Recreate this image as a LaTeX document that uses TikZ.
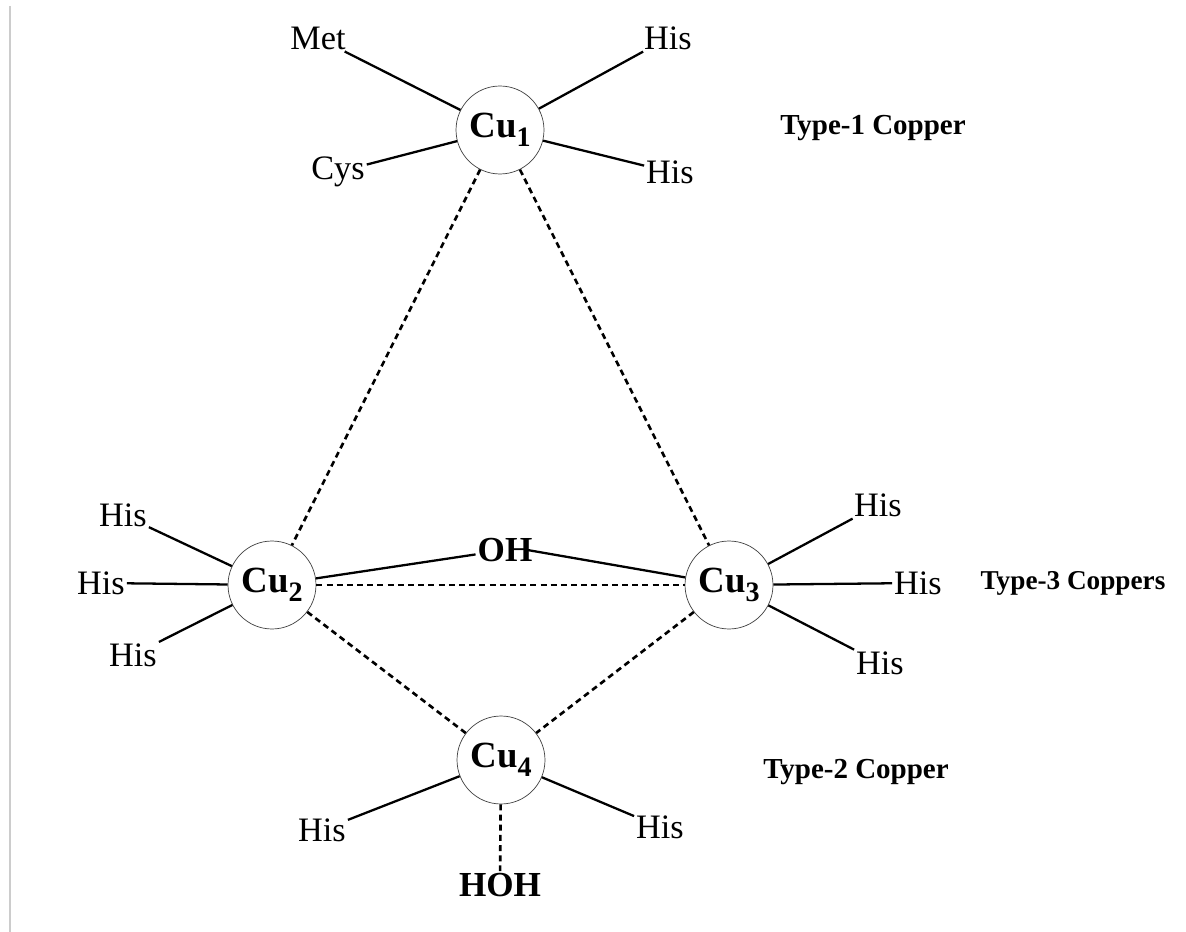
\documentclass[tikz,border=0pt]{standalone}
\usepackage{fontspec}
\setmainfont{Liberation Serif}

\newcommand{\cusub}[1]{\raisebox{-0.5ex}{\fontsize{16}{17}\selectfont #1}}

\tikzset{
  copper/.style={circle, draw=black!75, thin, minimum size=1.76cm, inner sep=0pt,
    font=\fontsize{21}{23}\selectfont\bfseries},
  ligand/.style={inner sep=1pt, font=\fontsize{19.5}{21}\selectfont},
  bond/.style={line width=1.3pt},
  weakbond/.style={line width=1.5pt, dash pattern=on 3.4pt off 2.4pt},
  tag/.style={font=\fontsize{16.5}{18}\selectfont\bfseries},
}

\begin{document}
\begin{tikzpicture}[x=0.02cm, y=-0.02cm]
  \useasboundingbox (0,0) rectangle (1186,932);
  \draw[black!20, line width=1.5pt] (10,6) -- (10,932);

  % the four coppers
  \node[copper] (cu1) at (500,130) {Cu\cusub{1}};
  \node[copper] (cu2) at (272,585) {Cu\cusub{2}};
  \node[copper] (cu3) at (729,585) {Cu\cusub{3}};
  \node[copper] (cu4) at (501,760) {Cu\cusub{4}};

  % residues
  \foreach \nm/\px/\py/\txt in {met/318/38/Met, hisa/668/38/His, cys/338/172/Cys, hisb/670/172/His,
      hisc/123/515/His, hisd/101/583/His, hise/133/655/His,
      hisf/878/505/His, hisg/918/583/His, hish/880/663/His,
      hisi/322/830/His, hisj/660/827/His}
    \node[ligand] (\nm) at (\px,\py) {\txt};
  \node[ligand, font=\fontsize{20}{22}\selectfont\bfseries] (oh) at (505,550) {OH};
  \node[ligand, font=\fontsize{20}{22}\selectfont\bfseries] (hoh) at (500,885) {HOH};

  \foreach \a/\b in {cu1/met, cu1/hisa, cu1/cys, cu1/hisb,
      cu2/hisc, cu2/hisd, cu2/hise,
      cu3/hisf, cu3/hisg, cu3/hish,
      cu4/hisi, cu4/hisj}
    \draw[bond] (\a) -- (\b);
  \draw[bond] (cu2) -- (oh);
  \draw[bond] ([xshift=-4pt]oh.east) -- (cu3);

  % long-range links
  \foreach \a/\b in {cu1/cu2, cu1/cu3, cu2/cu3, cu2/cu4, cu3/cu4, cu4/hoh}
    \draw[weakbond] (\a) -- (\b);

  \node[tag] (t1) at (873,128) {Type-1 Copper};
  \node[tag, font=\fontsize{15.5}{17}\selectfont\bfseries] (t3) at (1073,583) {Type-3 Coppers};
  \node[tag] (t2) at (856,772) {Type-2 Copper};
\end{tikzpicture}
\end{document}
